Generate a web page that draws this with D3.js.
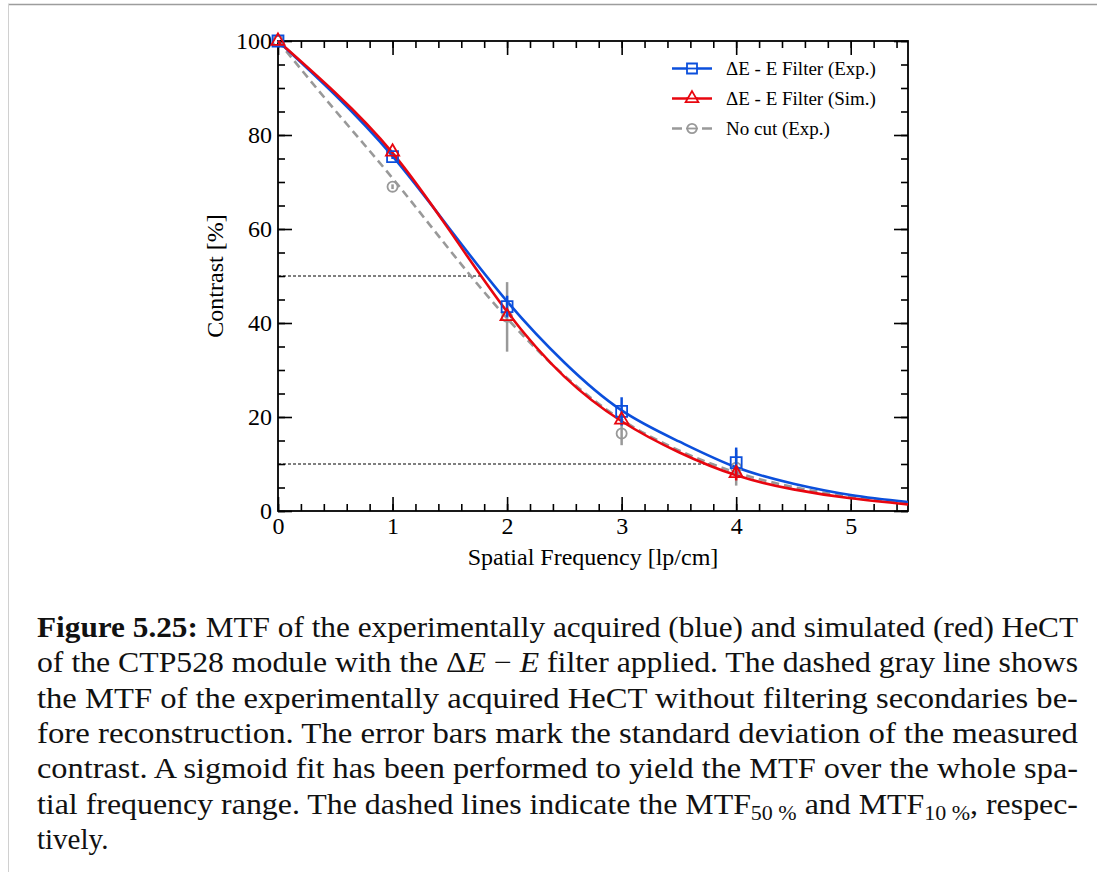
<!DOCTYPE html>
<html>
<head>
<meta charset="utf-8">
<script src="https://cdn.jsdelivr.net/npm/d3@7"></script>
<style>
    body { margin: 0; background: #fff; }
    svg { display: block; }
    .axis text { font-family: "Liberation Serif", serif; font-size: 24px; fill: #000; }
    .axis path, .axis line { stroke: #000; }
    .legend text { font-family: "Liberation Serif", serif; font-size: 19px; fill: #000; }
    .caption { font-family: "Liberation Serif", serif; font-size: 29px; fill: #111; }
</style>
</head>
<body>
<svg id="chart" width="1097" height="872"></svg>
<script>
(function() {

    // measured points (contrast in %, spatial frequency in lp/cm)
    var freq = [0, 1, 2, 3, 4];
    var expContrast = [100, 75.4, 43.5, 21.2, 10.3];
    var expError = [0, 0.5, 2.3, 3.0, 3.2];
    var simContrast = [100, 76.4, 41.4, 19.4, 8.0];
    var simError = [0, 0, 0, 0, 1.5];
    var nocutContrast = [100, 69.0, 41.3, 16.5, 9.2];
    var nocutError = [0, 0.5, 7.4, 2.5, 3.8];

    // sigmoid fit curves
    var fitFreq = [0, 0.5, 1, 1.5, 2, 2.5, 3, 3.5, 4, 4.5, 5, 5.5];
    var expFit = [100, 88.5, 75.5, 60.0, 44.6, 31.6, 21.4, 14.8, 9.3, 5.8, 3.4, 1.9];
    var simFit = [100, 89.0, 76.2, 59.6, 42.4, 28.6, 19.1, 12.5, 7.6, 4.6, 2.7, 1.4];
    var nocutFit = [100, 85.2, 70.8, 55.5, 41.0, 28.8, 19.4, 12.9, 8.2, 5.1, 3.0, 1.6];

    // MTF50 / MTF10 guide lines
    var mtfLevels = [50, 10];
    var mtfFreq = [1.78, 3.8];

    var xTicks = [0, 1, 2, 3, 4, 5];
    var yTicks = [0, 20, 40, 60, 80, 100];
    var legendLabels = ["ΔE - E Filter (Exp.)", "ΔE - E Filter (Sim.)", "No cut (Exp.)"];

    var blue = "#0b4fdc",
        red = "#e8060f",
        gray = "#999999";

    var svg = d3.select("#chart");

    // page frame
    svg.append("line").attr("x1", 8).attr("x2", 1097).attr("y1", 4.5).attr("y2", 4.5)
        .attr("stroke", "#9d9d9d").attr("stroke-width", 1.5);
    svg.append("line").attr("x1", 8.5).attr("x2", 8.5).attr("y1", 4).attr("y2", 872)
        .attr("stroke", "#d0d0d0").attr("stroke-width", 1);

    var x = d3.scaleLinear().domain([0, 5.5]).range([278, 908]);
    var y = d3.scaleLinear().domain([0, 100]).range([511, 41]);

    var xMinor = d3.range(0, 5.5001, 0.2);
    var yMinor = d3.range(0, 100.01, 5);

    function styleAxis(g) {
        g.attr("class", "axis")
            .attr("font-family", "Liberation Serif")
            .attr("font-size", 24);
        g.select(".domain").remove();
        g.selectAll("line").attr("stroke-width", 1.6);
    }

    // minor ticks on all four sides
    svg.append("g").attr("transform", "translate(0,511)")
        .call(d3.axisBottom(x).tickValues(xMinor).tickSize(-7).tickFormat(""))
        .call(styleAxis);
    svg.append("g").attr("transform", "translate(0,41)")
        .call(d3.axisTop(x).tickValues(xMinor).tickSize(-7).tickFormat(""))
        .call(styleAxis);
    svg.append("g").attr("transform", "translate(278,0)")
        .call(d3.axisLeft(y).tickValues(yMinor).tickSize(-7).tickFormat(""))
        .call(styleAxis);
    svg.append("g").attr("transform", "translate(908,0)")
        .call(d3.axisRight(y).tickValues(yMinor).tickSize(-7).tickFormat(""))
        .call(styleAxis);

    // major ticks
    svg.append("g").attr("transform", "translate(0,511)")
        .call(d3.axisBottom(x).tickValues(xTicks).tickSize(-14).tickPadding(6).tickFormat(d3.format("d")))
        .call(styleAxis);
    svg.append("g").attr("transform", "translate(0,41)")
        .call(d3.axisTop(x).tickValues(xTicks).tickSize(-14).tickFormat(""))
        .call(styleAxis);
    svg.append("g").attr("transform", "translate(278,0)")
        .call(d3.axisLeft(y).tickValues(yTicks).tickSize(-14).tickPadding(6).tickFormat(d3.format("d")))
        .call(styleAxis);
    svg.append("g").attr("transform", "translate(908,0)")
        .call(d3.axisRight(y).tickValues(yTicks).tickSize(-14).tickFormat(""))
        .call(styleAxis);

    // frame of the plot area
    svg.append("rect")
        .attr("x", x(0)).attr("y", y(100))
        .attr("width", x(5.5) - x(0)).attr("height", y(0) - y(100))
        .attr("fill", "none").attr("stroke", "#000").attr("stroke-width", 1.8);

    // axis titles
    svg.append("text")
        .attr("x", (x(0) + x(5.5)) / 2).attr("y", 565)
        .attr("text-anchor", "middle")
        .style("font-family", "Liberation Serif").style("font-size", "24px")
        .text("Spatial Frequency [lp/cm]");
    svg.append("text")
        .attr("transform", "translate(223," + ((y(0) + y(100)) / 2) + ") rotate(-90)")
        .attr("text-anchor", "middle")
        .style("font-family", "Liberation Serif").style("font-size", "24px")
        .text("Contrast [%]");

    // MTF50 / MTF10 dashed guides
    svg.append("g").selectAll("line")
        .data(mtfLevels)
        .enter()
        .append("line")
        .attr("x1", x(0))
        .attr("x2", function(d, i) { return x(mtfFreq[i]); })
        .attr("y1", function(d) { return y(d); })
        .attr("y2", function(d) { return y(d); })
        .attr("stroke", "#000").attr("stroke-width", 1)
        .attr("stroke-dasharray", "3,2");

    var line = d3.line()
        .x(function(d) { return x(d[0]); })
        .y(function(d) { return y(d[1]); })
        .curve(d3.curveNatural);

    function fitLine(values, color, dash) {
        svg.append("path")
            .datum(fitFreq.map(function(f, i) { return [f, values[i]]; }))
            .attr("d", line)
            .attr("fill", "none")
            .attr("stroke", color)
            .attr("stroke-width", 2.6)
            .attr("stroke-dasharray", dash);
    }

    fitLine(nocutFit, gray, "8,5");
    fitLine(expFit, blue, null);
    fitLine(simFit, red, null);

    function points(values, errors, color, symbol, size) {
        var pts = freq.map(function(f, i) { return { f: f, v: values[i], e: errors[i] }; });
        var g = svg.append("g");
        g.selectAll("line")
            .data(pts.filter(function(d) { return d.e > 0; }))
            .enter()
            .append("line")
            .attr("x1", function(d) { return x(d.f); })
            .attr("x2", function(d) { return x(d.f); })
            .attr("y1", function(d) { return y(d.v - d.e); })
            .attr("y2", function(d) { return y(d.v + d.e); })
            .attr("stroke", color)
            .attr("stroke-width", 2.5);
        g.selectAll("path")
            .data(pts)
            .enter()
            .append("path")
            .attr("d", d3.symbol().type(symbol).size(size))
            .attr("transform", function(d) { return "translate(" + x(d.f) + "," + y(d.v) + ")"; })
            .attr("fill", "none")
            .attr("stroke", color)
            .attr("stroke-width", 1.8);
    }

    points(nocutContrast, nocutError, gray, d3.symbolCircle, 80);
    points(expContrast, expError, blue, d3.symbolSquare, 120);
    points(simContrast, simError, red, d3.symbolTriangle, 75);

    // legend
    var legend = svg.append("g").attr("class", "legend");
    var legendStyle = [
        { color: blue, symbol: d3.symbolSquare, size: 100, dash: null },
        { color: red, symbol: d3.symbolTriangle, size: 70, dash: null },
        { color: gray, symbol: d3.symbolCircle, size: 70, dash: "10,20,10" }
    ];
    var rows = legend.selectAll("g")
        .data(legendLabels)
        .enter()
        .append("g")
        .attr("transform", function(d, i) { return "translate(0," + (68.5 + i * 30) + ")"; });
    rows.append("line")
        .attr("x1", 672).attr("x2", 712)
        .attr("stroke", function(d, i) { return legendStyle[i].color; })
        .attr("stroke-width", 2.6)
        .attr("stroke-dasharray", function(d, i) { return legendStyle[i].dash; });
    rows.append("path")
        .attr("d", function(d, i) { return d3.symbol().type(legendStyle[i].symbol).size(legendStyle[i].size)(); })
        .attr("transform", "translate(692,0)")
        .attr("fill", "#fff")
        .attr("stroke", function(d, i) { return legendStyle[i].color; })
        .attr("stroke-width", 1.8);
    rows.append("line")
        .attr("x1", 686).attr("x2", 698)
        .attr("stroke", function(d, i) { return legendStyle[i].color; })
        .attr("stroke-width", 1.8);
    rows.append("text")
        .attr("x", 726).attr("y", 6.5)
        .text(function(d) { return d; });

    // caption
    var captionLines = [
        [["b", "Figure 5.25:"], ["", " MTF of the experimentally acquired (blue) and simulated (red) HeCT"]],
        [["", "of the CTP528 module with the Δ"], ["i", "E"], ["", " − "], ["i", "E"], ["", " filter applied. The dashed gray line shows"]],
        [["", "the MTF of the experimentally acquired HeCT without filtering secondaries be-"]],
        [["", "fore reconstruction. The error bars mark the standard deviation of the measured"]],
        [["", "contrast. A sigmoid fit has been performed to yield the MTF over the whole spa-"]],
        [["", "tial frequency range. The dashed lines indicate the MTF"], ["s", "50 %"], ["", " and MTF"], ["s", "10 %"], ["", ", respec-"]],
        [["", "tively."]]
    ];

    var caption = svg.append("g");
    captionLines.forEach(function(parts, i) {
        var t = caption.append("text")
            .attr("class", "caption")
            .attr("x", 37)
            .attr("y", 637 + i * 35.3);
        if (i < captionLines.length - 1) {
            t.attr("textLength", 1041).attr("lengthAdjust", "spacingAndGlyphs");
        }
        var shifted = false;
        parts.forEach(function(p) {
            var s = t.append("tspan").text(p[1]);
            if (p[0] === "b") s.attr("font-weight", "bold");
            if (p[0] === "i") s.attr("font-style", "italic");
            if (p[0] === "s") {
                s.attr("font-size", "20px").attr("dy", 6);
                shifted = true;
            } else if (shifted) {
                s.attr("dy", -6);
                shifted = false;
            }
        });
    });

})();
</script>
</body>
</html>
